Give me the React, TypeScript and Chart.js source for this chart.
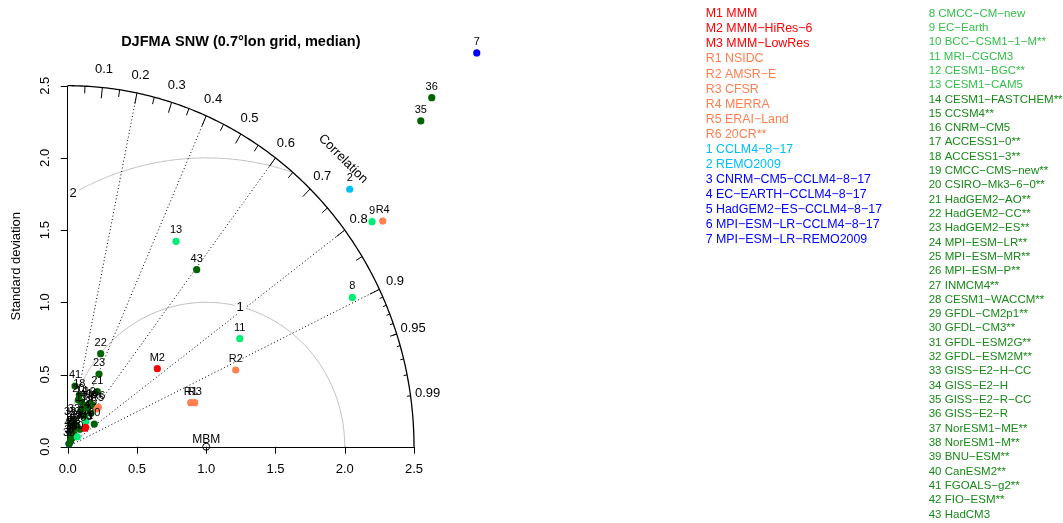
import React, { useEffect, useRef } from 'react';
import { Chart, registerables } from 'chart.js';

Chart.register(...registerables);

const FONT = '"Liberation Sans", Arial, Helvetica, sans-serif';
const W = 1063;
const H = 523;

const title = 'DJFMA SNW (0.7°lon grid, median)';
const yTitle = 'Standard deviation';
const corTitle = 'Correlation';
const maxSd = 2.5;
const refSd = 1;
const refLabel = 'MBM';

// scale range (wider than the diagram so that outlying models are drawn)
const xRangeMax = 3.0;
const yRangeMax = 2.8;

const axisTicks = [0, 0.5, 1, 1.5, 2, 2.5];
const corMajor = [0.1, 0.2, 0.3, 0.4, 0.5, 0.6, 0.7, 0.8, 0.9];
const corLabelVals = [0.1, 0.2, 0.3, 0.4, 0.5, 0.6, 0.7, 0.8, 0.9, 0.95, 0.99];
const corMedium = [0.05, 0.15, 0.25, 0.35, 0.45, 0.55, 0.65, 0.75, 0.85, 0.95];
const corSmall = [0.91, 0.92, 0.93, 0.94, 0.95, 0.96, 0.97, 0.98, 0.99];
const corLines = [0.2, 0.4, 0.6, 0.8, 0.9];
const rmsLevels = [1, 2];
const rmsLabelAngles = [75.8, 118.7];

// points: x = sd*cor, y = sd*sin(acos(cor))
const mLabels = ['M1', 'M2', 'M3'];
const mX = [0.13, 0.647, 0.124];
const mY = [0.134, 0.54, 0.128];

const rLabels = ['R1', 'R2', 'R3', 'R4', 'R5', 'R6'];
const rX = [0.888, 1.213, 0.917, 2.274, 0.212, 0.221];
const rY = [0.305, 0.531, 0.305, 1.563, 0.262, 0.273];

const rcmLightLabels = ['1', '2'];
const rcmLightX = [0.04, 2.036];
const rcmLightY = [0.1, 1.783];

const rcmLabels = ['3', '4', '5', '6', '7'];
const rcmX = [0.02, 0.03, 0.02, 0.01, 2.953];
const rcmY = [0.04, 0.06, 0.09, 0.02, 2.727];

const gcmLightLabels = ['8', '9', '10', '11', '12', '13'];
const gcmLightX = [2.055, 2.197, 0.069, 1.242, 0.13, 0.782];
const gcmLightY = [1.034, 1.558, 0.069, 0.748, 0.173, 1.422];

const gcmLabels = ['14', '15', '16', '17', '18', '19', '20', '21', '22', '23', '24', '25', '26', '27', '28',
  '29', '30', '31', '32', '33', '34', '35', '36', '37', '38', '39', '40', '41', '42', '43'];
const gcmX = [0.1, 0.144, 0.178, 0.101, 0.084, 0.16, 0.077, 0.214, 0.238, 0.226, 0.12, 0.168, 0.089, 0.04, 0.05,
  0.06, 0.192, 0.03, 0.017, 0.045, 0.03, 2.549, 2.628, 0.02, 0.01, 0.055, 0.13, 0.053, 0.02, 0.931];
const gcmY = [0.31, 0.266, 0.289, 0.259, 0.358, 0.3, 0.323, 0.381, 0.644, 0.503, 0.213, 0.231, 0.12, 0.1, 0.075,
  0.15, 0.157, 0.125, 0.164, 0.185, 0.06, 2.256, 2.417, 0.04, 0.02, 0.135, 0.285, 0.42, 0.09, 1.226];

const legendLeft = ['M1 MMM', 'M2 MMM−HiRes−6', 'M3 MMM−LowRes', 'R1 NSIDC', 'R2 AMSR−E', 'R3 CFSR', 'R4 MERRA',
  'R5 ERAI−Land', 'R6 20CR**', '1 CCLM4−8−17', '2 REMO2009', '3 CNRM−CM5−CCLM4−8−17', '4 EC−EARTH−CCLM4−8−17',
  '5 HadGEM2−ES−CCLM4−8−17', '6 MPI−ESM−LR−CCLM4−8−17', '7 MPI−ESM−LR−REMO2009'];
const legendRight = ['8 CMCC−CM−new', '9 EC−Earth', '10 BCC−CSM1−1−M**', '11 MRI−CGCM3', '12 CESM1−BGC**',
  '13 CESM1−CAM5', '14 CESM1−FASTCHEM**', '15 CCSM4**', '16 CNRM−CM5', '17 ACCESS1−0**', '18 ACCESS1−3**',
  '19 CMCC−CMS−new**', '20 CSIRO−Mk3−6−0**', '21 HadGEM2−AO**', '22 HadGEM2−CC**', '23 HadGEM2−ES**',
  '24 MPI−ESM−LR**', '25 MPI−ESM−MR**', '26 MPI−ESM−P**', '27 INMCM4**', '28 CESM1−WACCM**', '29 GFDL−CM2p1**',
  '30 GFDL−CM3**', '31 GFDL−ESM2G**', '32 GFDL−ESM2M**', '33 GISS−E2−H−CC', '34 GISS−E2−H', '35 GISS−E2−R−CC',
  '36 GISS−E2−R', '37 NorESM1−ME**', '38 NorESM1−M**', '39 BNU−ESM**', '40 CanESM2**', '41 FGOALS−g2**',
  '42 FIO−ESM**', '43 HadCM3'];

const cM = '#FF0000';
const cR = '#FF7F50';
const cRcmLight = '#00BFFF';
const cRcm = '#0000FF';
const cGcmLight = '#00EE76';
const cGcm = '#006400';
const cLegGcmLight = '#33C04A';
const cLegGcm = '#178A17';

function legendColorLeft(i: number) {
  if (i < 3) return cM;
  if (i < 9) return cR;
  if (i < 11) return cRcmLight;
  return cRcm;
}
function legendColorRight(i: number) {
  return i < 6 ? cLegGcmLight : cLegGcm;
}

const toPts = (xs: number[], ys: number[]) => xs.map((x, i) => ({ x, y: ys[i] }));

const groups = [
  { labels: mLabels, xs: mX, ys: mY, color: cM, order: 1 },
  { labels: rLabels, xs: rX, ys: rY, color: cR, order: 2 },
  { labels: gcmLightLabels, xs: gcmLightX, ys: gcmLightY, color: cGcmLight, order: 3 },
  { labels: gcmLabels, xs: gcmX, ys: gcmY, color: cGcm, order: 4 },
  { labels: rcmLabels, xs: rcmX, ys: rcmY, color: cRcm, order: 5 },
  { labels: rcmLightLabels, xs: rcmLightX, ys: rcmLightY, color: cRcmLight, order: 6 },
];

const taylorPlugin = {
  id: 'taylor',
  beforeDatasetsDraw(chart: any) {
    const ctx = chart.ctx as CanvasRenderingContext2D;
    const sx = chart.scales.x;
    const sy = chart.scales.y;
    const P = (x: number, y: number): [number, number] => [sx.getPixelForValue(x), sy.getPixelForValue(y)];
    ctx.save();

    // RMS contours
    ctx.strokeStyle = '#BEBEBE';
    ctx.lineWidth = 1;
    ctx.setLineDash([]);
    rmsLevels.forEach((r) => {
      const tMin = Math.acos(Math.min(1, (maxSd * maxSd - refSd * refSd - r * r) / (2 * r * refSd)));
      const tMax = Math.acos(Math.max(-1, -refSd / r));
      ctx.beginPath();
      const n = 200;
      for (let i = 0; i <= n; i++) {
        const t = tMin + ((tMax - tMin) * i) / n;
        const [px, py] = P(refSd + r * Math.cos(t), r * Math.sin(t));
        if (i === 0) ctx.moveTo(px, py);
        else ctx.lineTo(px, py);
      }
      ctx.stroke();
    });

    // correlation dotted lines
    ctx.strokeStyle = '#000';
    ctx.setLineDash([1, 2.5]);
    corLines.forEach((c) => {
      const [x0, y0] = P(0, 0);
      const [x1, y1] = P(maxSd * c, maxSd * Math.sqrt(1 - c * c));
      ctx.beginPath();
      ctx.moveTo(x0, y0);
      ctx.lineTo(x1, y1);
      ctx.stroke();
    });
    ctx.setLineDash([]);

    // RMS labels with white background
    ctx.font = `13px ${FONT}`;
    ctx.textAlign = 'center';
    ctx.textBaseline = 'middle';
    rmsLevels.forEach((r, i) => {
      const a = (rmsLabelAngles[i] * Math.PI) / 180;
      const [px, py] = P(refSd + r * Math.cos(a), r * Math.sin(a));
      const txt = String(r);
      const w = ctx.measureText(txt).width;
      ctx.fillStyle = '#fff';
      ctx.fillRect(px - w / 2 - 2, py - 7, w + 4, 14);
      ctx.fillStyle = '#000';
      ctx.fillText(txt, px, py + 0.5);
    });

    // axes (standard deviation), drawn along the scales from 0 to maxSd
    ctx.strokeStyle = '#000';
    ctx.lineWidth = 1;
    const [ox, oy] = P(0, 0);
    const [ex] = P(maxSd, 0);
    const [, ey] = P(0, maxSd);
    ctx.beginPath();
    ctx.moveTo(Math.round(ox) - 0.5, oy);
    ctx.lineTo(Math.round(ox) - 0.5, ey);
    ctx.moveTo(ox, Math.round(oy) + 0.5);
    ctx.lineTo(ex, Math.round(oy) + 0.5);
    ctx.stroke();
    axisTicks.forEach((v) => {
      const px = Math.round(sx.getPixelForValue(v)) + 0.5;
      const py = Math.round(sy.getPixelForValue(v)) + 0.5;
      ctx.beginPath();
      ctx.moveTo(px, oy);
      ctx.lineTo(px, oy + 7);
      ctx.moveTo(ox, py);
      ctx.lineTo(ox - 7, py);
      ctx.stroke();
    });
    ctx.fillStyle = '#000';
    ctx.font = `13px ${FONT}`;
    ctx.textAlign = 'center';
    ctx.textBaseline = 'middle';
    axisTicks.forEach((v) => {
      const px = sx.getPixelForValue(v);
      const py = sy.getPixelForValue(v);
      ctx.fillText(v.toFixed(1), px, oy + 22.5);
      ctx.save();
      ctx.translate(ox - 22, py);
      ctx.rotate(-Math.PI / 2);
      ctx.fillText(v.toFixed(1), 0, 0);
      ctx.restore();
    });

    // outer arc
    ctx.strokeStyle = '#000';
    ctx.lineWidth = 1.3;
    ctx.beginPath();
    for (let i = 0; i <= 200; i++) {
      const t = (Math.PI / 2) * (i / 200);
      const [px, py] = P(maxSd * Math.cos(t), maxSd * Math.sin(t));
      if (i === 0) ctx.moveTo(px, py);
      else ctx.lineTo(px, py);
    }
    ctx.stroke();

    // ticks on arc
    ctx.lineWidth = 1;
    const drawTicks = (vals: number[], frac: number) => {
      vals.forEach((c) => {
        const s = Math.sqrt(1 - c * c);
        const [x0, y0] = P(maxSd * c, maxSd * s);
        const [x1, y1] = P(maxSd * frac * c, maxSd * frac * s);
        ctx.beginPath();
        ctx.moveTo(x0, y0);
        ctx.lineTo(x1, y1);
        ctx.stroke();
      });
    };
    drawTicks(corMajor, 0.97);
    drawTicks(corMedium, 0.98);
    drawTicks(corSmall, 0.99);

    // correlation labels
    ctx.fillStyle = '#000';
    ctx.font = `13px ${FONT}`;
    ctx.textAlign = 'center';
    ctx.textBaseline = 'middle';
    corLabelVals.forEach((c) => {
      const s = Math.sqrt(1 - c * c);
      const [px, py] = P(1.05 * maxSd * c, 1.05 * maxSd * s);
      ctx.fillText(String(c), px, py);
    });
    const [cx, cy] = P(Math.cos(Math.PI / 4) * 1.1 * maxSd, Math.sin(Math.PI / 4) * 1.1 * maxSd);
    ctx.save();
    ctx.translate(cx + 6, cy - 7);
    ctx.rotate(Math.PI / 4);
    ctx.fillText(corTitle, 0, 0);
    ctx.restore();

    ctx.restore();
  },
  afterDatasetsDraw(chart: any) {
    const ctx = chart.ctx as CanvasRenderingContext2D;
    const sx = chart.scales.x;
    const sy = chart.scales.y;
    ctx.save();
    // reference point
    const rx = sx.getPixelForValue(refSd);
    const ry = sy.getPixelForValue(0);
    ctx.strokeStyle = '#000';
    ctx.lineWidth = 1;
    ctx.beginPath();
    ctx.arc(rx, ry, 3.5, 0, Math.PI * 2);
    ctx.stroke();
    ctx.fillStyle = '#000';
    ctx.font = `12px ${FONT}`;
    ctx.textAlign = 'center';
    ctx.textBaseline = 'middle';
    ctx.fillText(refLabel, rx, ry - 7);

    // point labels
    ctx.font = `11px ${FONT}`;
    groups.forEach((g) => {
      g.labels.forEach((lab, i) => {
        const px = sx.getPixelForValue(g.xs[i]);
        const py = sy.getPixelForValue(g.ys[i]);
        ctx.fillText(lab, px, py - 11);
      });
    });
    ctx.restore();
  },
  afterDraw(chart: any) {
    const ctx = chart.ctx as CanvasRenderingContext2D;
    const sx = chart.scales.x;
    const sy = chart.scales.y;
    ctx.save();
    ctx.fillStyle = '#000';
    ctx.textAlign = 'center';
    ctx.textBaseline = 'middle';
    // y title
    ctx.save();
    ctx.translate(16, (sy.getPixelForValue(0) + sy.getPixelForValue(maxSd)) / 2);
    ctx.rotate(-Math.PI / 2);
    ctx.font = `13px ${FONT}`;
    ctx.fillText(yTitle, 0, 0);
    ctx.restore();
    // title
    ctx.font = `bold 14.5px ${FONT}`;
    ctx.fillText(title, (sx.getPixelForValue(0) + sx.getPixelForValue(maxSd)) / 2, 42);
    // legend
    ctx.textAlign = 'left';
    ctx.font = `12.4px ${FONT}`;
    legendLeft.forEach((t, i) => {
      ctx.fillStyle = legendColorLeft(i);
      ctx.fillText(t, 705.7, 13.8 + i * 15.08);
    });
    ctx.font = `11.5px ${FONT}`;
    legendRight.forEach((t, i) => {
      ctx.fillStyle = legendColorRight(i);
      ctx.fillText(t, 928.7, 13.5 + i * 14.31);
    });
    ctx.restore();
  },
};

// pixel frame: x 0 -> 67.7px, 2.5 -> 414px ; y 0 -> 446.7px, 2.5 -> 85.7px
const padLeft = 67.7;
const padBottom = H - 446.7;
const padRight = W - (67.7 + (xRangeMax * (414 - 67.7)) / maxSd);
const padTop = 446.7 - (yRangeMax * (446.7 - 85.7)) / maxSd;

export default function App() {
  const ref = useRef<HTMLCanvasElement | null>(null);
  useEffect(() => {
    if (!ref.current) return;
    Chart.defaults.font.family = FONT;
    const chart = new Chart(ref.current, {
      type: 'scatter',
      data: {
        datasets: groups.map((g) => ({
          data: toPts(g.xs, g.ys),
          backgroundColor: g.color,
          borderColor: g.color,
          borderWidth: 0,
          pointRadius: 3.6,
          pointHoverRadius: 3.6,
          order: g.order,
          clip: false as any,
        })),
      },
      options: {
        responsive: false,
        animation: false,
        devicePixelRatio: 1,
        events: [],
        layout: { padding: { left: padLeft, top: padTop, right: padRight, bottom: padBottom } },
        plugins: { legend: { display: false }, tooltip: { enabled: false }, title: { display: false } },
        scales: {
          x: { type: 'linear', min: 0, max: xRangeMax, display: false },
          y: { type: 'linear', min: 0, max: yRangeMax, display: false },
        },
      },
      plugins: [taylorPlugin],
    });
    return () => chart.destroy();
  }, []);
  return (
    <div style={{ position: 'absolute', left: 0, top: 0, width: W, height: H, background: '#fff' }}>
      <canvas ref={ref} width={W} height={H} style={{ display: 'block', width: W, height: H }} />
    </div>
  );
}
